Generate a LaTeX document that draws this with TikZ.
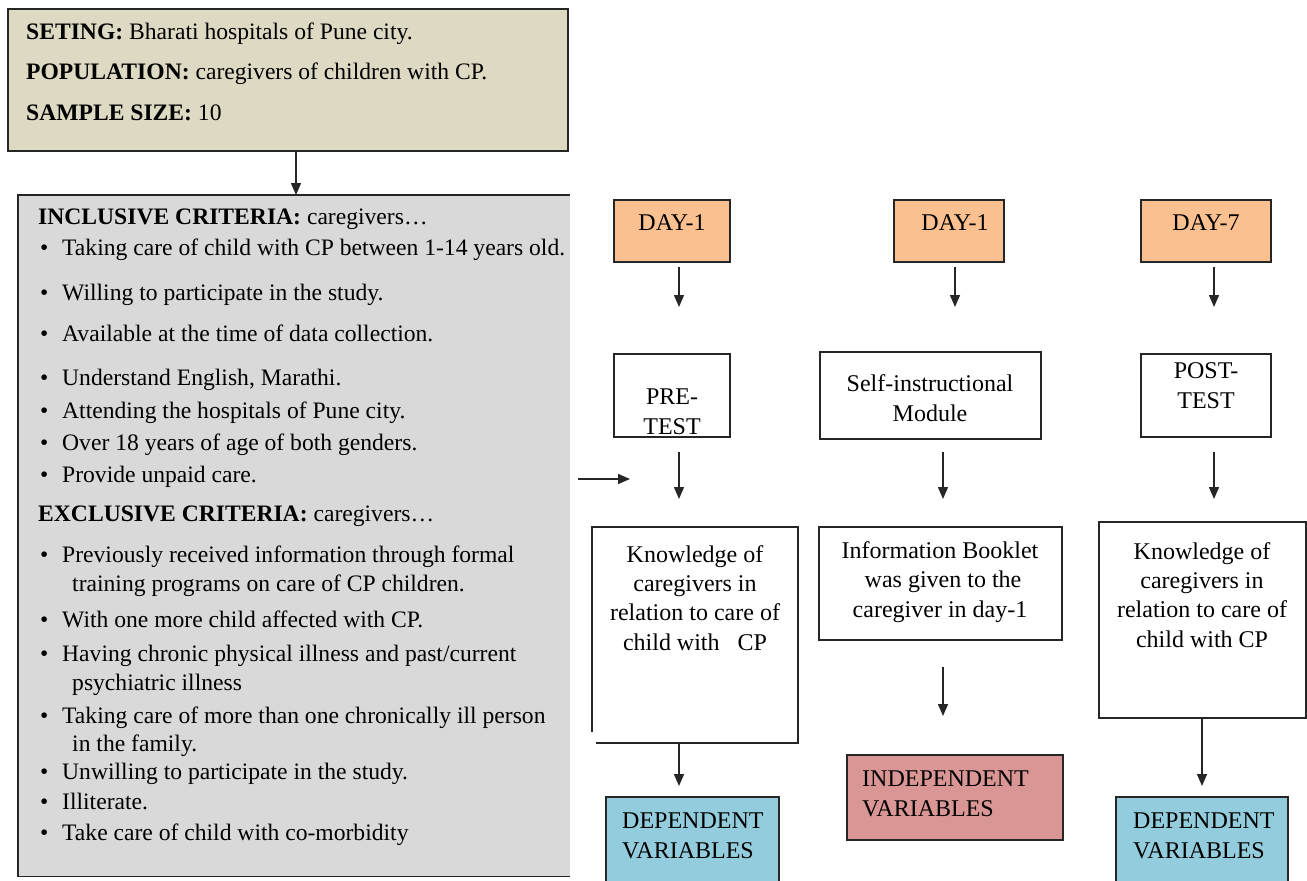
\documentclass[tikz,border=0pt]{standalone}
\usepackage{fontspec}
\setmainfont{Liberation Serif}
\usetikzlibrary{arrows.meta}
\definecolor{beigefill}{HTML}{DDD9C3}
\definecolor{grayfill}{HTML}{D9D9D9}
\definecolor{orangefill}{HTML}{FAC090}
\definecolor{bluefill}{HTML}{93CDDD}
\definecolor{pinkfill}{HTML}{DA9694}
\definecolor{edge}{HTML}{262626}
\begin{document}
\begin{tikzpicture}[x=1pt,y=-1pt,
  box/.style={draw=edge, line width=1.3pt, inner sep=0pt, outer sep=0pt},
  arr/.style={-{Triangle[length=12pt,width=10pt]}, line width=1.5pt, draw=edge},
  lbl/.style={anchor=base west, inner sep=0pt, font=\fontsize{23.6}{28}\selectfont},
  blt/.style={anchor=base west, inner sep=0pt, font=\fontsize{23.6}{28}\selectfont},
  rt/.style={align=center, inner sep=0pt, font=\fontsize{24}{29.3}\selectfont},
  rts/.style={inner sep=0pt, font=\fontsize{24}{30}\selectfont}]
\useasboundingbox (0,0) rectangle (1307,881);

% ---------- top setting box ----------
\node[box, fill=beigefill, line width=1.8pt, minimum width=560pt, minimum height=142pt] (setting) at (288,80) {};
\node[lbl] (s1) at (26,39) {\textbf{SETING:} Bharati hospitals of Pune city.};
\node[lbl] (s2) at (26,79) {\textbf{POPULATION:} caregivers of children with CP.};
\node[lbl] (s3) at (26,120) {\textbf{SAMPLE SIZE:} 10};

% ---------- criteria box ----------
\node[fill=grayfill, inner sep=0pt, minimum width=552pt, minimum height=681pt] (crit) at (294,535.5) {};
\draw[edge, line width=1.4pt] (crit.north east) -- (crit.north west) -- (crit.south west) -- (crit.south east);
\coordinate (ta) at (296,151);
\coordinate (tb) at (296,195);
\draw[arr] (ta) -- (tb);

\node[lbl] (inc) at (38,224) {\textbf{INCLUSIVE CRITERIA:} caregivers\dots};
\foreach \n/\yy/\t in {
  i1/255/{Taking care of child with CP between 1-14 years old.},
  i2/300/{Willing to participate in the study.},
  i3/341/{Available at the time of data collection.},
  i4/385/{Understand English, Marathi.},
  i5/418/{Attending the hospitals of Pune city.},
  i6/450/{Over 18 years of age of both genders.},
  i7/482/{Provide unpaid care.},
  e1/562/{Previously received information through formal},
  e2/627/{With one more child affected with CP.},
  e3/661/{Having chronic physical illness and past/current},
  e4/723/{Taking care of more than one chronically ill person},
  e5/779/{Unwilling to participate in the study.},
  e6/809/{Illiterate.},
  e7/840/{Take care of child with co-morbidity}}{
  \node[blt] (b\n) at (40,\yy) {\textbullet};
  \node[blt] (\n) at (62,\yy) {\t};
}
\node[lbl] (exc) at (38,521) {\textbf{EXCLUSIVE CRITERIA:} caregivers\dots};
\node[blt] (e1b) at (72,591) {training programs on care of CP children.};
\node[blt] (e3b) at (72,690) {psychiatric illness};
\node[blt] (e4b) at (72,751) {in the family.};

% free arrow
\coordinate (fa) at (578,479);
\coordinate (fb) at (630,479);
\draw[arr] (fa) -- (fb);

% ---------- column 1 ----------
\node[box, fill=orangefill, minimum width=116pt, minimum height=62pt] (d1) at (672,231) {};
\node[rts, anchor=base] (d1t) at (672,230) {DAY-1};
\node[box, minimum width=116pt, minimum height=83pt] (pre) at (672,395.5) {};
\node[rts, anchor=base, align=center] (pret) at (672,434) {PRE-\\TEST};
\node[minimum width=206pt, minimum height=216pt, inner sep=0pt, outer sep=0pt] (k1) at (695,635) {};
\draw[edge, line width=1.3pt] ([xshift=4pt]k1.south west) -- (k1.south east) -- (k1.north east) -- (k1.north west) -- ([yshift=11pt]k1.south west);
\node[rt, anchor=base] (k1t) at (695,650) {Knowledge of\\caregivers in\\relation to care of\\child with~~ CP};
\node[box, fill=bluefill, minimum width=173pt, minimum height=90pt] (dv1) at (692.5,842) {};
\node[rts, anchor=base west, align=left] (dv1t) at (622,858) {DEPENDENT\\VARIABLES};
\draw[arr] (679,267) -- (679,307);
\draw[arr] (679,452) -- (679,499);
\draw[arr] (679,743) -- (679,786);

% ---------- column 2 ----------
\node[box, fill=orangefill, minimum width=110pt, minimum height=62pt] (d2) at (949,231) {};
\node[rts, anchor=base] (d2t) at (955,230) {DAY-1};
\node[box, minimum width=221pt, minimum height=87pt] (sim) at (930.5,395.5) {};
\node[rts, align=center] (simt) at (930,398) {Self-instructional\\Module};
\node[box, minimum width=243pt, minimum height=113pt] (ib) at (940.5,583.5) {};
\node[rt, anchor=base] (ibt) at (940,617) {Information Booklet\\~was given to the\\caregiver in day-1};
\node[box, fill=pinkfill, minimum width=216pt, minimum height=85pt] (iv) at (955,797.5) {};
\node[rts, anchor=base west, align=left] (ivt) at (862,816) {INDEPENDENT\\VARIABLES};
\draw[arr] (955,267) -- (955,307);
\draw[arr] (943,452) -- (943,499);
\draw[arr] (943,667) -- (943,716);

% ---------- column 3 ----------
\node[box, fill=orangefill, minimum width=130pt, minimum height=62pt] (d7) at (1206,231) {};
\node[rts, anchor=base] (d7t) at (1206,230) {DAY-7};
\node[box, minimum width=130pt, minimum height=83pt] (post) at (1206,395.5) {};
\node[rts, anchor=base, align=center] (postt) at (1206,408) {POST-\\TEST};
\node[box, minimum width=207pt, minimum height=196pt] (k2) at (1202.5,620) {};
\node[rt, anchor=base] (k2t) at (1202,647) {Knowledge of\\caregivers in\\relation to care of\\child with CP};
\node[box, fill=bluefill, minimum width=172pt, minimum height=90pt] (dv2) at (1202,842) {};
\node[rts, anchor=base west, align=left] (dv2t) at (1133,858) {DEPENDENT\\VARIABLES};
\draw[arr] (1214,267) -- (1214,307);
\draw[arr] (1214,452) -- (1214,499);
\draw[arr] (1202,718) -- (1202,786);
\end{tikzpicture}
\end{document}
